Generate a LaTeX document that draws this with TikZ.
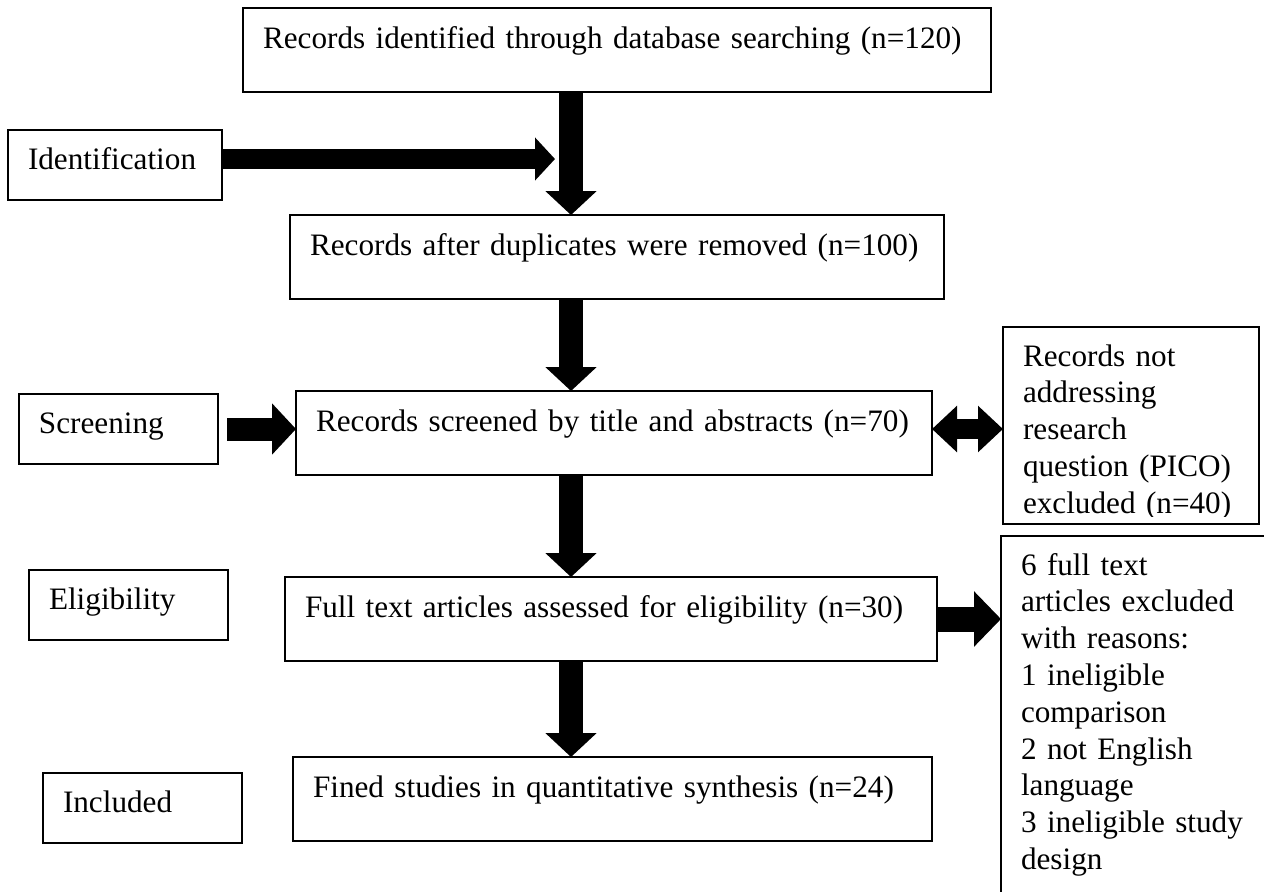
\documentclass[tikz,border=0pt]{standalone}
\usepackage{fontspec}
\setmainfont{Liberation Serif}
\usetikzlibrary{arrows.meta}

\begin{document}
\begin{tikzpicture}[x=0.5pt,y=-0.5pt,
  every node/.style={font=\fontsize{15.6pt}{18.4pt}\selectfont},
  box/.style={draw,line width=0.7pt,anchor=north west,outer sep=0pt,
    inner xsep=10pt,inner ysep=0pt,align=left,text height=20pt,text depth=22pt},
  stage/.style={box,text height=19.5pt,text depth=15.5pt,text width=79.5pt},
  side/.style={box,text height=19.5pt},
  fat/.style={line width=12pt,-{Triangle[width=25pt,length=12pt]}}]
  \useasboundingbox (0,0) rectangle (1264,891);
  \clip (0,0) rectangle (1264,891);

  % stages on the left
  \node[stage,text width=87pt] (ident) at (8,130) {Identification};
  \node[stage] (screen) at (19,394) {Screening};
  \node[stage] (elig) at (29,570) {Eligibility};
  \node[stage] (incl) at (43,773) {Included};

  % main column
  \node[box,text width=354pt] (found) at (243,8) {Records identified through database searching (n=120)};
  \node[box,text width=307pt] (dedup) at (290,215) {Records after duplicates were removed (n=100)};
  \node[box,text width=298pt] (titles) at (296,391) {Records screened by title and abstracts (n=70)};
  \node[box,text width=306pt] (fulltext) at (285,577) {Full text articles assessed for eligibility (n=30)};
  \node[box,text width=299.5pt] (final) at (293,757) {Fined studies in quantitative synthesis (n=24)};

  % exclusions
  \begin{scope}
    \clip (1000,320) rectangle (1264,516);
    \node[side,draw=none,text width=108pt,text depth=79pt] (pico) at (1003,327)
      {Records not\\addressing\\research\\question (PICO)\\excluded (n=40)};
  \end{scope}
  \draw[line width=0.7pt] (pico.north west) rectangle (pico.south east);
  \node[side,text width=115.5pt,text depth=172.5pt] (reasons) at (1001,536)
    {6 full text\\articles excluded\\with reasons:\\1 ineligible\\comparison\\2 not English\\language\\3 ineligible study\\design};

  % block arrows
  \coordinate (axis) at (571,0);
  \coordinate (idtip) at (555,159);
  \draw[fat] (found.south -| axis) -- (dedup.north -| axis);
  \draw[fat] (dedup.south -| axis) -- (titles.north -| axis);
  \draw[fat] (titles.south -| axis) -- (fulltext.north -| axis);
  \draw[fat] (fulltext.south -| axis) -- (final.north -| axis);
  \draw[line width=10pt,-{Triangle[width=21pt,length=10pt]}] (ident.east |- idtip) -- (idtip);
  \draw[fat,line width=11.5pt,shorten <=4.5pt] (screen.east) -- (screen.east -| titles.west);
  \draw[line width=10pt,{Triangle[width=22.5pt,length=12.5pt]}-{Triangle[width=22.5pt,length=12.5pt]}]
    (titles.east |- screen.east) -- (pico.west |- screen.east);
  \draw[fat,line width=12.5pt,-{Triangle[width=27pt,length=13.5pt]}] (fulltext.east) -- (fulltext.east -| reasons.west);
\end{tikzpicture}
\end{document}
